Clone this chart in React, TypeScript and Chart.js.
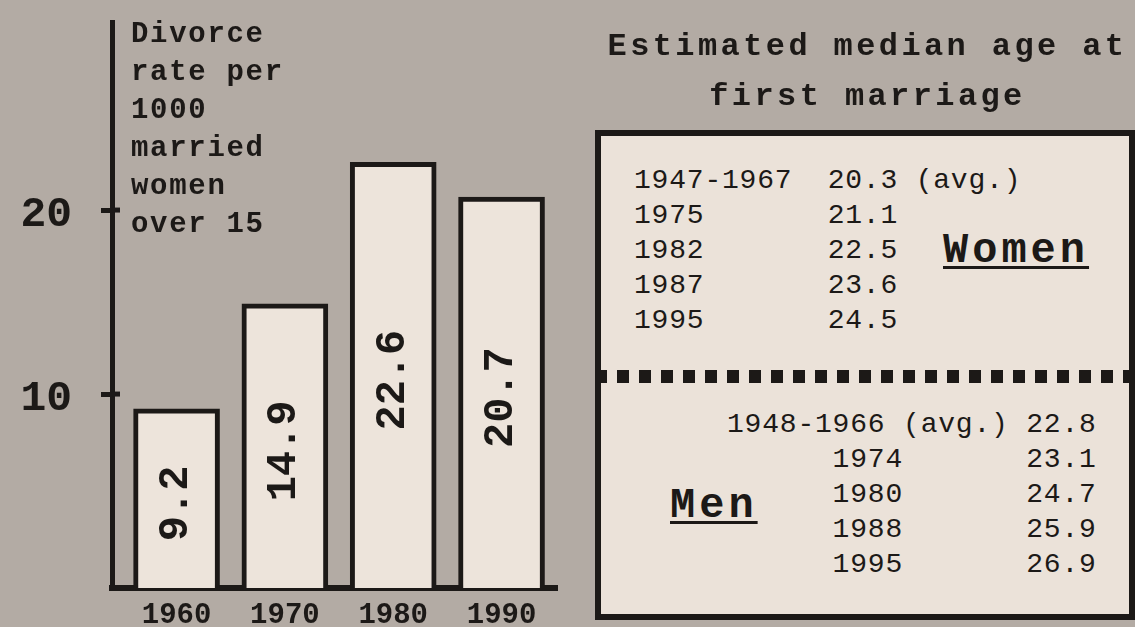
import React, { useEffect, useRef } from "react";
import { Chart, registerables } from "chart.js";

Chart.register(...registerables);

// ---- data ----
const years = [1960, 1970, 1980, 1990];
const yearLabels = ["1960", "1970", "1980", "1990"];
const divorceRates = [9.2, 14.9, 22.6, 20.7];
const rateLabels = ["9.2", "14.9", "22.6", "20.7"];
const yTickValues = [10, 20];
const yTickLabels = ["10", "20"];
const yAxisNoteLines = ["Divorce", "rate per", "1000", "married", "women", "over 15"];
const titleLines = ["Estimated median age at", "first marriage"];
const womenPeriods = ["1947-1967", "1975", "1982", "1987", "1995"];
const womenAges = ["20.3", "21.1", "22.5", "23.6", "24.5"];
const womenNotes = [" (avg.)", "", "", "", ""];
const menPeriods = ["1948-1966 (avg.)", "1974", "1980", "1988", "1995"];
const menAges = ["22.8", "23.1", "24.7", "25.9", "26.9"];

// ---- styles ----
const INK = "#1c1917";
const PAGE_BG = "#b3aba4";
const BAR_FILL = "#ede4db";
const BOX_FILL = "#ebe2d9";
const MONO = '"Liberation Mono", "Courier New", monospace';

const Y_MIN = -0.54;
const Y_MAX = 30.22;
const X_MIN = 1954.04;
const X_MAX = 1995.12;

const valueLabelPlugin = {
  id: "valueLabels",
  afterDatasetsDraw(chart: any) {
    const ctx = chart.ctx;
    const meta = chart.getDatasetMeta(0);
    meta.data.forEach((bar: any, i: number) => {
      const p = bar.getProps(["x", "y", "base"], true);
      ctx.save();
      ctx.translate(p.x, (p.y + p.base) / 2 + 5);
      ctx.rotate(-Math.PI / 2);
      ctx.font = `bold 42px ${MONO}`;
      ctx.fillStyle = INK;
      ctx.textAlign = "center";
      ctx.textBaseline = "middle";
      ctx.fillText(rateLabels[i], 0, 0);
      ctx.restore();
    });
  },
};

const tickExtensionPlugin = {
  id: "tickExtension",
  afterDraw(chart: any) {
    const ctx = chart.ctx;
    const yScale = chart.scales.y;
    const left = chart.chartArea.left;
    ctx.save();
    ctx.strokeStyle = INK;
    ctx.lineWidth = 5;
    yScale.ticks.forEach((t: any) => {
      const py = yScale.getPixelForValue(t.value);
      ctx.beginPath();
      ctx.moveTo(left, py);
      ctx.lineTo(left + 8, py);
      ctx.stroke();
    });
    ctx.restore();
  },
};

function BarChart() {
  const ref = useRef<HTMLCanvasElement | null>(null);
  useEffect(() => {
    if (!ref.current) return;
    const chart = new Chart(ref.current, {
      type: "bar",
      data: {
        datasets: [
          {
            data: years.map((x, i) => ({ x, y: divorceRates[i] })),
            backgroundColor: BAR_FILL,
            borderColor: INK,
            borderWidth: 5,
            borderSkipped: "start",
            barThickness: 86,
            base: Y_MIN,
          } as any,
        ],
      },
      options: {
        animation: false,
        responsive: false,
        layout: { padding: { left: 0, top: 22, right: 43, bottom: 0 } },
        plugins: {
          legend: { display: false },
          tooltip: { enabled: false },
          title: { display: false },
        },
        scales: {
          x: {
            type: "linear",
            offset: false,
            min: X_MIN,
            max: X_MAX,
            z: 1,
            afterBuildTicks: (s: any) => {
              s.ticks = years.map((v) => ({ value: v }));
            },
            afterFit: (s: any) => {
              s.height = 39;
              s.paddingLeft = 0;
              s.paddingRight = 0;
            },
            grid: { display: true, offset: false, drawOnChartArea: false, drawTicks: false },
            border: { display: true, color: INK, width: 6 },
            ticks: {
              autoSkip: false,
              maxRotation: 0,
              padding: 10,
              color: INK,
              font: { family: MONO, size: 29, weight: "bold" },
              callback: (_v: any, i: number) => yearLabels[i],
            },
          },
          y: {
            type: "linear",
            min: Y_MIN,
            max: Y_MAX,
            z: 1,
            afterBuildTicks: (s: any) => {
              s.ticks = yTickValues.map((v) => ({ value: v }));
            },
            afterFit: (s: any) => {
              s.width = 112;
              s.paddingTop = 0;
              s.paddingBottom = 0;
            },
            grid: {
              display: true,
              drawOnChartArea: false,
              drawTicks: true,
              tickLength: 11,
              tickWidth: 5,
              tickColor: INK,
              lineWidth: 5,
              color: INK,
            },
            border: { display: true, color: INK, width: 5 },
            ticks: {
              padding: 29,
              labelOffset: 5,
              color: INK,
              font: { family: MONO, size: 43, weight: "bold" },
              callback: (_v: any, i: number) => yTickLabels[i],
            },
          },
        },
      } as any,
      plugins: [valueLabelPlugin, tickExtensionPlugin],
    });
    return () => chart.destroy();
  }, []);
  return (
    <canvas
      ref={ref}
      width={600}
      height={627}
      style={{ position: "absolute", left: 0, top: 0, width: 600, height: 627 }}
    />
  );
}

export default function App() {
  const womenRows = womenPeriods.map(
    (p, i) => p.padEnd(11, " ") + womenAges[i] + womenNotes[i]
  );
  const menRows = menPeriods.map((p, i) =>
    i === 0 ? p + " " + menAges[i] : " ".repeat(6) + p.padEnd(11, " ") + menAges[i]
  );
  const tableText: React.CSSProperties = {
    position: "absolute",
    fontFamily: MONO,
    fontSize: 28,
    letterSpacing: 0.8,
    lineHeight: "35px",
    whiteSpace: "pre",
    color: INK,
  };
  const bigLabel: React.CSSProperties = {
    position: "absolute",
    fontFamily: MONO,
    fontWeight: "bold",
    fontSize: 42,
    letterSpacing: 4,
    lineHeight: "42px",
    color: INK,
    textDecoration: "underline",
    textDecorationThickness: "3px",
    textUnderlineOffset: "4px",
    whiteSpace: "pre",
  };
  return (
    <div
      style={{
        position: "fixed",
        left: 0,
        top: 0,
        width: 1135,
        height: 627,
        overflow: "hidden",
        background: PAGE_BG,
      }}
    >
      <BarChart />
      <div
        style={{
          position: "absolute",
          left: 131,
          top: 16,
          fontFamily: MONO,
          fontWeight: "bold",
          fontSize: 29,
          letterSpacing: 1.7,
          lineHeight: "38px",
          color: INK,
          whiteSpace: "pre",
        }}
      >
        {yAxisNoteLines.map((l, i) => (
          <div key={i}>{l}</div>
        ))}
      </div>
      <div
        style={{
          position: "absolute",
          left: 598,
          width: 539,
          top: 22,
          textAlign: "center",
          fontFamily: MONO,
          fontWeight: "bold",
          fontSize: 32,
          letterSpacing: 3.4,
          lineHeight: "50px",
          color: INK,
          whiteSpace: "pre",
        }}
      >
        {titleLines.map((l, i) => (
          <div key={i}>{l}</div>
        ))}
      </div>
      <div
        style={{
          position: "absolute",
          left: 595,
          top: 130,
          width: 540,
          height: 490,
          boxSizing: "border-box",
          border: `6px solid ${INK}`,
          background: BOX_FILL,
        }}
      />
      <div
        style={{
          position: "absolute",
          left: 595,
          top: 370,
          width: 540,
          height: 13,
          background: `repeating-linear-gradient(to right, ${INK} 0px, ${INK} 12px, transparent 12px, transparent 22px)`,
        }}
      />
      <div style={{ ...tableText, left: 634, top: 163 }}>
        {womenRows.map((r, i) => (
          <div key={i}>{r}</div>
        ))}
      </div>
      <div style={{ ...bigLabel, left: 943, top: 230 }}>Women</div>
      <div style={{ ...tableText, left: 727, top: 407 }}>
        {menRows.map((r, i) => (
          <div key={i}>{r}</div>
        ))}
      </div>
      <div style={{ ...bigLabel, left: 670, top: 485 }}>Men</div>
    </div>
  );
}
